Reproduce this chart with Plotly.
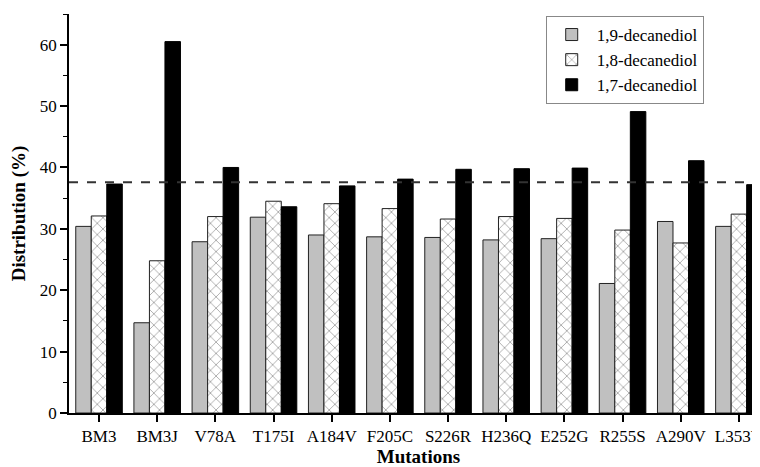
import plotly.graph_objects as go

mutations = ["BM3", "BM3J", "V78A", "T175I", "A184V", "F205C", "S226R",
             "H236Q", "E252G", "R255S", "A290V", "L353V"]
d19 = [30.4, 14.7, 27.9, 31.9, 29.0, 28.7, 28.6, 28.2, 28.4, 21.1, 31.2, 30.4]
d18 = [32.1, 24.8, 32.0, 34.5, 34.1, 33.3, 31.6, 32.0, 31.7, 29.8, 27.7, 32.4]
d17 = [37.3, 60.5, 40.0, 33.6, 37.0, 38.1, 39.7, 39.8, 39.9, 49.1, 41.1, 37.2]
reference_level = 37.6

font_family = "Liberation Serif"

fig = go.Figure()
fig.add_trace(go.Bar(x=mutations, y=d19, name="1,9-decanediol",
                     marker=dict(color="#c0c0c0", line=dict(color="#222", width=1))))
fig.add_trace(go.Bar(x=mutations, y=d18, name="1,8-decanediol",
                     marker=dict(color="white", line=dict(color="#222", width=1),
                                 pattern=dict(shape="x", fgcolor="#444", bgcolor="white",
                                              size=8, solidity=0.2))))
fig.add_trace(go.Bar(x=mutations, y=d17, name="1,7-decanediol",
                     marker=dict(color="black", line=dict(color="black", width=1))))

fig.add_shape(type="line", xref="paper", yref="y", x0=0, x1=1,
              y0=reference_level, y1=reference_level,
              line=dict(color="#333", width=2, dash="dash"))

fig.update_layout(
    width=760, height=467,
    margin=dict(l=61, r=0, t=6, b=62),
    plot_bgcolor="white", paper_bgcolor="white",
    barmode="group", bargap=0.2, bargroupgap=0,
    font=dict(family=font_family, size=17, color="black"),
    legend=dict(x=0.682, y=0.995, xanchor="left", yanchor="top",
                bordercolor="#888", borderwidth=1, bgcolor="white",
                font=dict(size=17), tracegroupgap=0, itemwidth=40),
    xaxis=dict(range=[-0.516, 11.5], showline=True, linecolor="black", linewidth=1.5,
               ticks="outside", ticklen=7, tickcolor="black", tickwidth=1.5,
               title=dict(text="<b>Mutations</b>", font=dict(size=19), standoff=4),
               tickfont=dict(size=17)),
    yaxis=dict(range=[0, 65], showline=True, linecolor="black", linewidth=1.5,
               showgrid=False, zeroline=False, dtick=10,
               ticks="outside", ticklen=7, tickcolor="black", tickwidth=1.5,
               minor=dict(dtick=5, ticks="outside", ticklen=4, tickcolor="black", tickwidth=1.2),
               title=dict(text="<b>Distribution (%)</b>", font=dict(size=19), standoff=10),
               tickfont=dict(size=17)),
)

fig.write_html("out.html")
